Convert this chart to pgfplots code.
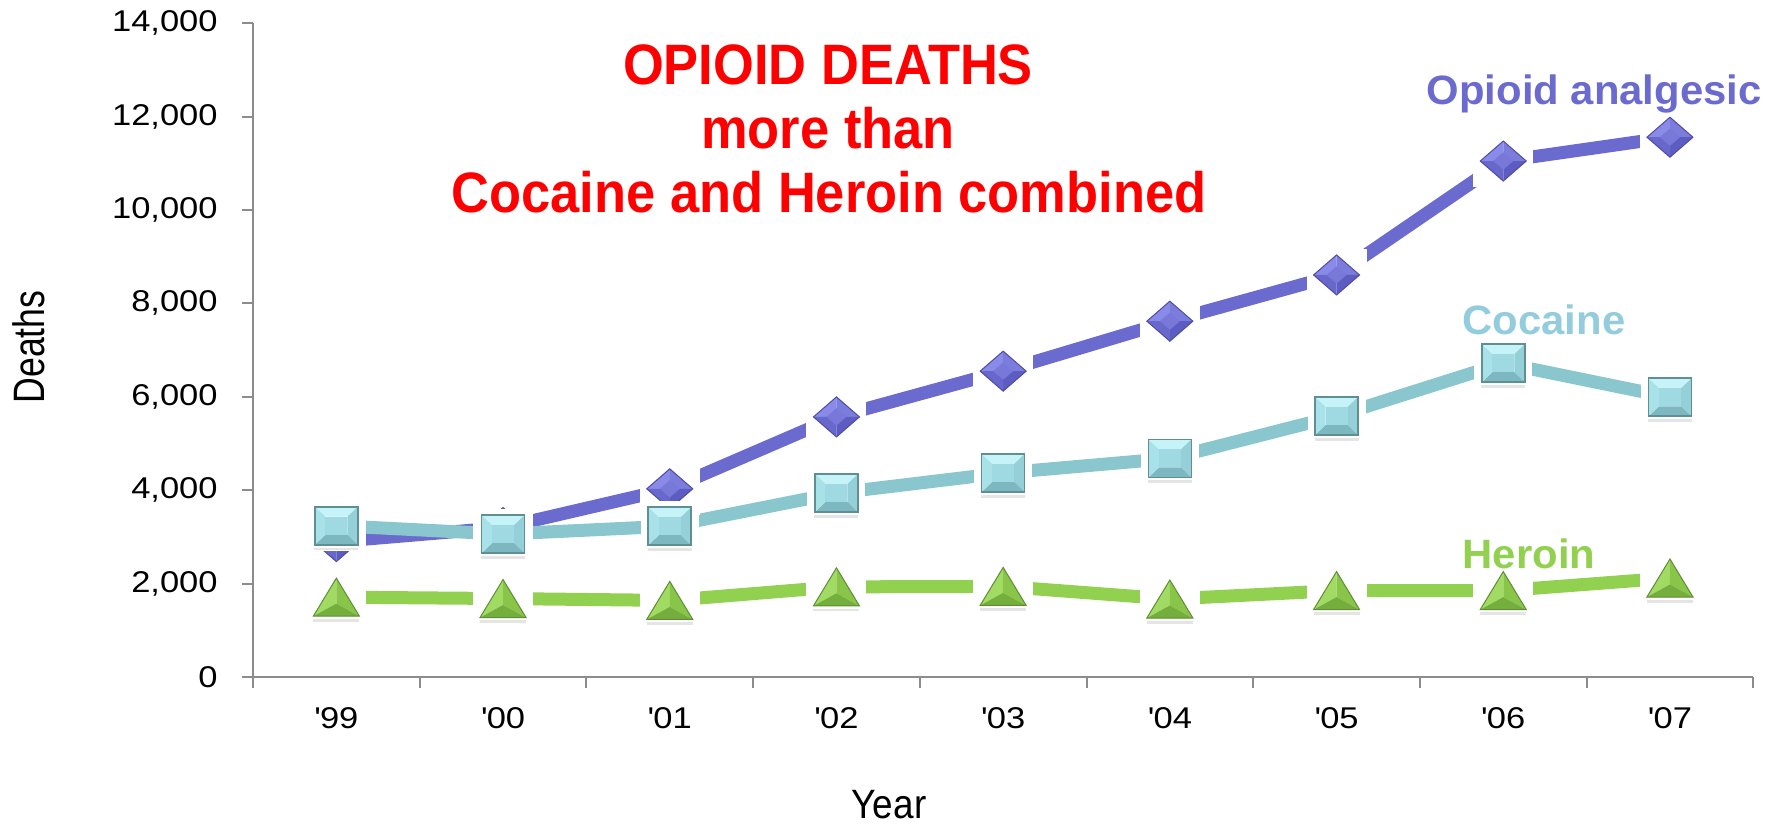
\documentclass[border=0pt]{standalone}
\usepackage{fontspec}
\setmainfont{Liberation Sans}
\newfontfamily\tickfont{Liberation Sans}[FakeStretch=1.15]
\newfontfamily\deathsfont{Liberation Sans}[FakeStretch=0.81]
\newfontfamily\yearfont{Liberation Sans}[FakeStretch=0.9]
\newfontfamily\titlefont{Liberation Sans}[FakeStretch=0.92]
\newfontfamily\seriesfont{Liberation Sans}[FakeStretch=1.02]
\usepackage{pgfplots}
\usepackage{pgfplotstable}
\pgfplotsset{compat=1.18}

\definecolor{axisgray}{HTML}{8C8C8C}
\definecolor{titlered}{HTML}{FF0000}
\definecolor{opioid}{HTML}{6B6BCF}
\definecolor{cocaineline}{HTML}{89C6CD}
\definecolor{cocainetext}{HTML}{93CDDD}
\definecolor{heroin}{HTML}{92D050}
% bevel shades of the markers
\definecolor{diaUL}{HTML}{8A8AE8}
\definecolor{diaUR}{HTML}{7C7CDD}
\definecolor{diaLR}{HTML}{5C5CC2}
\definecolor{diaLL}{HTML}{6868CC}
\definecolor{diaMid}{HTML}{7878D8}
\definecolor{diaEdge}{HTML}{4C4CA6}
\definecolor{sqTop}{HTML}{C6F3F7}
\definecolor{sqLeft}{HTML}{A8E1E8}
\definecolor{sqRight}{HTML}{95D0D8}
\definecolor{sqBottom}{HTML}{7DB8C0}
\definecolor{sqMid}{HTML}{9FDAE2}
\definecolor{sqEdge}{HTML}{5D8F95}
\definecolor{triLeft}{HTML}{A2DB64}
\definecolor{triRight}{HTML}{88C549}
\definecolor{triBottom}{HTML}{74AE3C}
\definecolor{triEdge}{HTML}{5E8E30}

\pgfplotstableread{
x deaths
0 2900
1 3200
2 4030
3 5570
4 6550
5 7620
6 8610
7 11050
8 11560
}\opioiddata

\pgfplotstableread{
x deaths
0 3240
1 3060
2 3230
3 3940
4 4370
5 4680
6 5590
7 6720
8 5990
}\cocainedata

\pgfplotstableread{
x deaths
0 1710
1 1680
2 1640
3 1930
4 1940
5 1670
6 1850
7 1850
8 2120
}\heroindata

% beveled diamond on a white backing box
\pgfdeclareplotmark{bevdiamond}{%
  \pgfscope
  \pgfsetfillcolor{white}%
  \pgfpathrectangle{\pgfqpoint{-15pt}{-13pt}}{\pgfqpoint{30pt}{26pt}}\pgfusepath{fill}%
  \pgfsetfillcolor{diaUL}%
  \pgfpathmoveto{\pgfqpoint{-11.5pt}{0pt}}\pgfpathlineto{\pgfqpoint{0pt}{10pt}}\pgfpathlineto{\pgfqpoint{0pt}{0pt}}\pgfpathclose\pgfusepath{fill}%
  \pgfsetfillcolor{diaUR}%
  \pgfpathmoveto{\pgfqpoint{0pt}{10pt}}\pgfpathlineto{\pgfqpoint{11.5pt}{0pt}}\pgfpathlineto{\pgfqpoint{0pt}{0pt}}\pgfpathclose\pgfusepath{fill}%
  \pgfsetfillcolor{diaLR}%
  \pgfpathmoveto{\pgfqpoint{11.5pt}{0pt}}\pgfpathlineto{\pgfqpoint{0pt}{-10pt}}\pgfpathlineto{\pgfqpoint{0pt}{0pt}}\pgfpathclose\pgfusepath{fill}%
  \pgfsetfillcolor{diaLL}%
  \pgfpathmoveto{\pgfqpoint{0pt}{-10pt}}\pgfpathlineto{\pgfqpoint{-11.5pt}{0pt}}\pgfpathlineto{\pgfqpoint{0pt}{0pt}}\pgfpathclose\pgfusepath{fill}%
  \pgfsetfillcolor{diaMid}%
  \pgfpathmoveto{\pgfqpoint{-5pt}{0pt}}\pgfpathlineto{\pgfqpoint{0pt}{4.3pt}}\pgfpathlineto{\pgfqpoint{5pt}{0pt}}\pgfpathlineto{\pgfqpoint{0pt}{-4.3pt}}\pgfpathclose\pgfusepath{fill}%
  \pgfsetlinewidth{0.5pt}\pgfsetstrokecolor{diaEdge}%
  \pgfpathmoveto{\pgfqpoint{-11.5pt}{0pt}}\pgfpathlineto{\pgfqpoint{0pt}{10pt}}\pgfpathlineto{\pgfqpoint{11.5pt}{0pt}}\pgfpathlineto{\pgfqpoint{0pt}{-10pt}}\pgfpathclose\pgfusepath{stroke}%
  \endpgfscope
}

% beveled square on a white backing box
\pgfdeclareplotmark{bevsquare}{%
  \pgfscope
  \pgfsetfillcolor{white}%
  \pgfpathrectangle{\pgfqpoint{-14.5pt}{-12.5pt}}{\pgfqpoint{29pt}{25pt}}\pgfusepath{fill}%
  \pgfsetfillcolor{black!10}%
  \pgfpathrectangle{\pgfqpoint{-11pt}{-12.3pt}}{\pgfqpoint{22pt}{1.4pt}}\pgfusepath{fill}%
  \pgfsetfillcolor{sqTop}%
  \pgfpathmoveto{\pgfqpoint{-10.75pt}{9.5pt}}\pgfpathlineto{\pgfqpoint{10.75pt}{9.5pt}}\pgfpathlineto{\pgfqpoint{5.5pt}{4.5pt}}\pgfpathlineto{\pgfqpoint{-5.5pt}{4.5pt}}\pgfpathclose\pgfusepath{fill}%
  \pgfsetfillcolor{sqRight}%
  \pgfpathmoveto{\pgfqpoint{10.75pt}{9.5pt}}\pgfpathlineto{\pgfqpoint{10.75pt}{-9.5pt}}\pgfpathlineto{\pgfqpoint{5.5pt}{-4.5pt}}\pgfpathlineto{\pgfqpoint{5.5pt}{4.5pt}}\pgfpathclose\pgfusepath{fill}%
  \pgfsetfillcolor{sqBottom}%
  \pgfpathmoveto{\pgfqpoint{10.75pt}{-9.5pt}}\pgfpathlineto{\pgfqpoint{-10.75pt}{-9.5pt}}\pgfpathlineto{\pgfqpoint{-5.5pt}{-4.5pt}}\pgfpathlineto{\pgfqpoint{5.5pt}{-4.5pt}}\pgfpathclose\pgfusepath{fill}%
  \pgfsetfillcolor{sqLeft}%
  \pgfpathmoveto{\pgfqpoint{-10.75pt}{-9.5pt}}\pgfpathlineto{\pgfqpoint{-10.75pt}{9.5pt}}\pgfpathlineto{\pgfqpoint{-5.5pt}{4.5pt}}\pgfpathlineto{\pgfqpoint{-5.5pt}{-4.5pt}}\pgfpathclose\pgfusepath{fill}%
  \pgfsetfillcolor{sqMid}%
  \pgfpathrectangle{\pgfqpoint{-5.5pt}{-4.5pt}}{\pgfqpoint{11pt}{9pt}}\pgfusepath{fill}%
  \pgfsetlinewidth{0.8pt}\pgfsetstrokecolor{sqEdge}%
  \pgfpathrectangle{\pgfqpoint{-10.75pt}{-9.5pt}}{\pgfqpoint{21.5pt}{19pt}}\pgfusepath{stroke}%
  \endpgfscope
}

% beveled triangle on a white backing box
\pgfdeclareplotmark{bevtriangle}{%
  \pgfscope
  \pgfsetfillcolor{white}%
  \pgfpathrectangle{\pgfqpoint{-15pt}{-12.5pt}}{\pgfqpoint{30pt}{25pt}}\pgfusepath{fill}%
  \pgfsetfillcolor{black!10}%
  \pgfpathrectangle{\pgfqpoint{-11.5pt}{-12.3pt}}{\pgfqpoint{23pt}{1.4pt}}\pgfusepath{fill}%
  \pgfsetfillcolor{triLeft}%
  \pgfpathmoveto{\pgfqpoint{0pt}{9.5pt}}\pgfpathlineto{\pgfqpoint{-11.5pt}{-9.5pt}}\pgfpathlineto{\pgfqpoint{0pt}{-3.2pt}}\pgfpathclose\pgfusepath{fill}%
  \pgfsetfillcolor{triRight}%
  \pgfpathmoveto{\pgfqpoint{0pt}{9.5pt}}\pgfpathlineto{\pgfqpoint{11.5pt}{-9.5pt}}\pgfpathlineto{\pgfqpoint{0pt}{-3.2pt}}\pgfpathclose\pgfusepath{fill}%
  \pgfsetfillcolor{triBottom}%
  \pgfpathmoveto{\pgfqpoint{-11.5pt}{-9.5pt}}\pgfpathlineto{\pgfqpoint{11.5pt}{-9.5pt}}\pgfpathlineto{\pgfqpoint{0pt}{-3.2pt}}\pgfpathclose\pgfusepath{fill}%
  \pgfsetlinewidth{0.5pt}\pgfsetstrokecolor{triEdge}%
  \pgfpathmoveto{\pgfqpoint{0pt}{9.5pt}}\pgfpathlineto{\pgfqpoint{-11.5pt}{-9.5pt}}\pgfpathlineto{\pgfqpoint{11.5pt}{-9.5pt}}\pgfpathclose\pgfusepath{stroke}%
  \endpgfscope
}

\begin{document}
\begin{tikzpicture}
\begin{axis}[
  at={(126.5pt,78pt)}, anchor=south west,
  scale only axis, width=750.15pt, height=326.85pt,
  xmin=-0.5, xmax=8.5, ymin=0, ymax=14000,
  axis x line*=bottom, axis y line*=left,
  axis line style={-, draw=axisgray, line width=1pt},
  tick align=outside, major tick length=5.5pt,
  tick style={draw=axisgray, line width=1pt},
  xtick={-0.5,0.5,...,8.5}, xticklabels={},
  extra x ticks={0,1,...,8},
  extra x tick labels={\textquotesingle 99,\textquotesingle 00,\textquotesingle 01,\textquotesingle 02,\textquotesingle 03,\textquotesingle 04,\textquotesingle 05,\textquotesingle 06,\textquotesingle 07},
  extra x tick style={major tick length=0pt, tick style={draw=none}},
  ytick={0,2000,...,14000},
  /pgf/number format/.cd, 1000 sep={,}, assume math mode=true, /pgfplots/.cd,
  scaled y ticks=false,
  xticklabel style={font=\tickfont\fontsize{15pt}{18pt}\selectfont, inner sep=0pt, anchor=north, yshift=-15pt},
  yticklabel style={font=\tickfont\fontsize{15pt}{18pt}\selectfont, inner sep=0pt, anchor=east, xshift=-12pt},
  clip=false,
]
\addplot[color=opioid, line width=6.5pt, mark=bevdiamond] table[x=x, y=deaths] {\opioiddata};
\addplot[color=cocaineline, line width=6.5pt, mark=bevsquare] table[x=x, y=deaths] {\cocainedata};
\addplot[color=heroin, line width=6.5pt, mark=bevtriangle] table[x=x, y=deaths] {\heroindata};
\end{axis}

% axis titles
\node[font=\deathsfont\fontsize{22pt}{26pt}\selectfont, rotate=90, inner sep=0pt] at (14.5pt,243pt) {Deaths};
\node[font=\yearfont\fontsize{20.5pt}{24pt}\selectfont, inner sep=0pt] at (444.5pt,14.15pt) {Year};

% headline
\begin{scope}[every node/.style={anchor=base, inner sep=0pt, text=titlered, font=\titlefont\bfseries\fontsize{28.5pt}{32pt}\selectfont}]
\node at (414pt,374pt) {OPIOID DEATHS};
\node at (414pt,342.35pt) {more than};
\node at (414.5pt,310.15pt) {Cocaine and Heroin combined};
\end{scope}

% series names
\begin{scope}[every node/.style={anchor=base, inner sep=0pt, font=\seriesfont\bfseries\fontsize{20.5pt}{24pt}\selectfont}]
\node[text=opioid] at (797.1pt,364pt) {Opioid analgesic};
\node[text=cocainetext] at (772pt,249pt) {Cocaine};
\node[text=heroin] at (764.5pt,132.35pt) {Heroin};
\end{scope}

\pgfresetboundingbox
\useasboundingbox (0,0) rectangle (887.5pt,416.5pt);
\end{tikzpicture}
\end{document}
